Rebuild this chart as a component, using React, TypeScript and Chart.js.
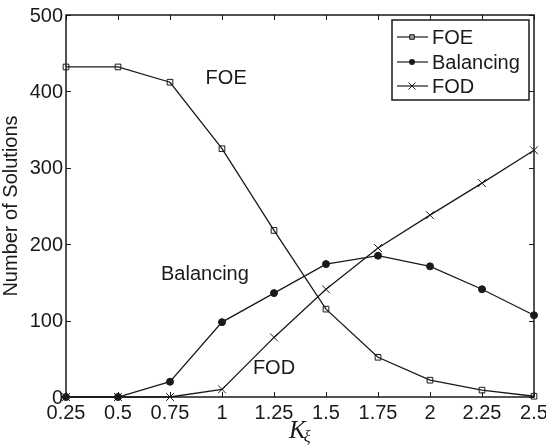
import React, { useEffect, useRef } from "react";
import { Chart, registerables } from "chart.js";

Chart.register(...registerables);

const kValues = [0.25, 0.5, 0.75, 1, 1.25, 1.5, 1.75, 2, 2.25, 2.5];
const foe = [432, 432, 412, 325, 218, 115, 52, 22, 9, 1];
const balancing = [0, 0, 20, 98, 136, 174, 185, 171, 141, 107];
const fod = [0, 0, 0, 10, 78, 141, 195, 238, 280, 323];
const yTicks = [0, 100, 200, 300, 400, 500];
const seriesNames = ["FOE", "Balancing", "FOD"];
const annotations = [
  { text: "FOE", x: 1.02, y: 417 },
  { text: "Balancing", x: 0.918, y: 161 },
  { text: "FOD", x: 1.25, y: 37 },
];

const INK = "#1a1a1a";
const FONT = '"Liberation Sans", Arial, Helvetica, sans-serif';

function drawMarker(ctx: CanvasRenderingContext2D, style: string, r: number, x: number, y: number) {
  ctx.beginPath();
  if (style === "rect") {
    ctx.rect(x - r, y - r, 2 * r, 2 * r);
    ctx.fill();
    ctx.stroke();
  } else if (style === "circle") {
    ctx.arc(x, y, r, 0, Math.PI * 2);
    ctx.fill();
  } else {
    const o = r * Math.SQRT1_2;
    ctx.moveTo(x - o, y - o);
    ctx.lineTo(x + o, y + o);
    ctx.moveTo(x - o, y + o);
    ctx.lineTo(x + o, y - o);
    ctx.stroke();
  }
}

const frameAndText = {
  id: "frameAndText",
  afterDatasetsDraw(chart: any) {
    const { ctx, chartArea: a, scales } = chart;
    const xs = scales.x;
    const ys = scales.y;
    ctx.save();
    // frame
    ctx.strokeStyle = INK;
    ctx.lineWidth = 1.5;
    ctx.strokeRect(a.left, a.top, a.right - a.left, a.bottom - a.top);
    // inward ticks
    ctx.lineWidth = 1;
    const tl = 5;
    ctx.beginPath();
    kValues.forEach((v) => {
      const px = Math.round(xs.getPixelForValue(v)) + 0.5;
      ctx.moveTo(px, a.bottom);
      ctx.lineTo(px, a.bottom - tl);
      ctx.moveTo(px, a.top);
      ctx.lineTo(px, a.top + tl);
    });
    yTicks.forEach((v) => {
      const py = Math.round(ys.getPixelForValue(v)) + 0.5;
      ctx.moveTo(a.left, py);
      ctx.lineTo(a.left + tl, py);
      ctx.moveTo(a.right, py);
      ctx.lineTo(a.right - tl, py);
    });
    ctx.stroke();

    // tick labels
    ctx.fillStyle = INK;
    ctx.font = `20px ${FONT}`;
    ctx.textAlign = "right";
    ctx.textBaseline = "middle";
    yTicks.forEach((v) => {
      ctx.fillText(String(v), a.left - 3, ys.getPixelForValue(v) + 1);
    });
    ctx.textAlign = "center";
    ctx.textBaseline = "top";
    kValues.forEach((v) => {
      ctx.fillText(String(v), xs.getPixelForValue(v), a.bottom + 6);
    });

    // y title
    ctx.save();
    ctx.translate(11, 206);
    ctx.rotate(-Math.PI / 2);
    ctx.textAlign = "center";
    ctx.textBaseline = "middle";
    ctx.font = `20px ${FONT}`;
    ctx.fillText("Number of Solutions", 0, 0);
    ctx.restore();

    // x title K_xi
    ctx.textAlign = "left";
    ctx.textBaseline = "alphabetic";
    ctx.font = 'italic 25px "Liberation Serif", "Times New Roman", serif';
    const kx = (a.left + a.right) / 2 - 11;
    ctx.fillText("K", kx, 438);
    const kw = ctx.measureText("K").width;
    ctx.font = 'italic 16px "Liberation Serif", "Times New Roman", serif';
    ctx.fillText("ξ", kx + kw - 2, 442);

    // annotations
    ctx.font = `20px ${FONT}`;
    ctx.textAlign = "center";
    ctx.textBaseline = "middle";
    annotations.forEach((an) => {
      ctx.fillText(an.text, xs.getPixelForValue(an.x), ys.getPixelForValue(an.y));
    });

    // legend
    const lx0 = 392, ly0 = 20, lx1 = 529, ly1 = 100;
    ctx.fillStyle = "#ffffff";
    ctx.fillRect(lx0, ly0, lx1 - lx0, ly1 - ly0);
    ctx.strokeStyle = INK;
    ctx.lineWidth = 1.5;
    ctx.strokeRect(lx0, ly0, lx1 - lx0, ly1 - ly0);
    const rows = [37, 62, 86];
    const styles = ["rect", "circle", "crossRot"];
    const radii = [2.3, 3, 5];
    rows.forEach((ry, i) => {
      ctx.strokeStyle = INK;
      ctx.lineWidth = 1.2;
      ctx.beginPath();
      ctx.moveTo(397, ry);
      ctx.lineTo(428, ry);
      ctx.stroke();
      ctx.fillStyle = i === 1 ? INK : "#9a9a9a";
      ctx.lineWidth = 1;
      drawMarker(ctx, styles[i], radii[i], 412, ry);
      ctx.fillStyle = INK;
      ctx.font = `20px ${FONT}`;
      ctx.textAlign = "left";
      ctx.textBaseline = "middle";
      ctx.fillText(seriesNames[i], 432, ry + 1);
    });
    ctx.restore();
  },
};

export default function App() {
  const ref = useRef<HTMLCanvasElement | null>(null);
  useEffect(() => {
    if (!ref.current) return;
    const mk = (arr: number[]) => kValues.map((k, i) => ({ x: k, y: arr[i] }));
    const common = {
      borderColor: INK,
      borderWidth: 1.3,
      pointBorderColor: INK,
      pointBorderWidth: 1,
      tension: 0,
      clip: false as any,
    };
    const chart = new Chart(ref.current, {
      type: "line",
      data: {
        datasets: [
          {
            ...common,
            label: seriesNames[0],
            data: mk(foe),
            pointStyle: "rect",
            pointRadius: 4,
            pointBackgroundColor: "rgba(255,255,255,0)",
          },
          {
            ...common,
            label: seriesNames[1],
            data: mk(balancing),
            pointStyle: "circle",
            pointRadius: 3.5,
            pointBackgroundColor: INK,
          },
          {
            ...common,
            label: seriesNames[2],
            data: mk(fod),
            pointStyle: "crossRot",
            pointRadius: 5.5,
            pointBackgroundColor: INK,
          },
        ],
      },
      options: {
        responsive: false,
        animation: false,
        devicePixelRatio: 1,
        layout: { padding: { top: 15, right: 12, left: 0, bottom: 0 } },
        plugins: { legend: { display: false }, tooltip: { enabled: false } },
        scales: {
          x: {
            type: "linear",
            min: 0.25,
            max: 2.5,
            grid: { display: false },
            border: { display: false },
            ticks: { display: false },
            afterFit: (s: any) => {
              s.height = 49;
            },
          },
          y: {
            type: "linear",
            min: 0,
            max: 500,
            grid: { display: false },
            border: { display: false },
            ticks: { display: false },
            afterFit: (s: any) => {
              s.width = 66;
            },
          },
        },
      },
      plugins: [frameAndText],
    });
    return () => chart.destroy();
  }, []);
  return (
    <div style={{ position: "fixed", left: 0, top: 0, width: 546, height: 446, background: "#fff" }}>
      <canvas ref={ref} width={546} height={446} />
    </div>
  );
}
